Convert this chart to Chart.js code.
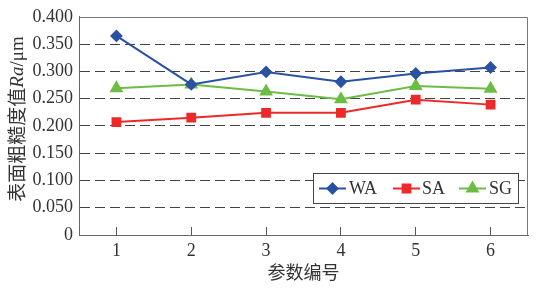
<!DOCTYPE html>
<html>
<head>
<meta charset="utf-8">
<script src="https://cdn.jsdelivr.net/npm/chart.js@4"></script>
<style>
  body { margin: 0; background: #fff; }
  #wrap { width: 537px; height: 288px; }
</style>
</head>
<body>
<div id="wrap"><canvas id="grafico" width="537" height="288"></canvas></div>
<script>
// categorías (参数编号) y valores de rugosidad
const categorias = ['1', '2', '3', '4', '5', '6'];
const valoresWA = [0.365, 0.276, 0.299, 0.281, 0.296, 0.307];
const valoresSA = [0.207, 0.215, 0.224, 0.224, 0.248, 0.239];
const valoresSG = [0.269, 0.276, 0.263, 0.249, 0.273, 0.268];
const ticksY = [0, 0.05, 0.1, 0.15, 0.2, 0.25, 0.3, 0.35, 0.4];

const serif = '"Liberation Serif", "DejaVu Serif", serif';
const cjk = '"Noto Sans CJK SC", sans-serif';

// marco, título del eje Y y leyenda dentro del área
const extras = {
    id: 'extras',
    afterDraw(chart) {
        const ctx = chart.ctx;
        const a = chart.chartArea;
        ctx.save();
        // marco superior y derecho
        ctx.strokeStyle = '#777';
        ctx.lineWidth = 1;
        ctx.beginPath();
        ctx.moveTo(Math.round(a.left) + 0.5, Math.round(a.top) + 0.5);
        ctx.lineTo(Math.round(a.right) - 0.5, Math.round(a.top) + 0.5);
        ctx.lineTo(Math.round(a.right) - 0.5, Math.round(a.bottom) + 0.5);
        ctx.stroke();

        // título Y rotado con Ra en cursiva
        const partes = [
            {t: '表面粗糙度值', f: '19px ' + cjk},
            {t: 'Ra', f: 'italic 19px ' + serif},
            {t: '/μm', f: '19px ' + serif}
        ];
        let total = 0;
        partes.forEach(p => { ctx.font = p.f; p.w = ctx.measureText(p.t).width; total += p.w; });
        ctx.translate(17, 119);
        ctx.rotate(-Math.PI / 2);
        ctx.fillStyle = '#333';
        ctx.textBaseline = 'middle';
        ctx.textAlign = 'left';
        let x = -total / 2;
        partes.forEach(p => { ctx.font = p.f; ctx.fillText(p.t, x, p.t === '表面粗糙度值' ? 0 : 1); x += p.w; });
        ctx.restore();

        // leyenda
        ctx.save();
        const bx = 313.5, by = 173.5, bw = 205, bh = 30;
        ctx.fillStyle = '#fff';
        ctx.fillRect(bx, by, bw, bh);
        ctx.strokeStyle = '#444';
        ctx.lineWidth = 1;
        ctx.strokeRect(bx, by, bw, bh);
        const cy = by + bh / 2;
        const items = [[319, 349], [393, 422], [459, 489]];
        chart.data.datasets.forEach((ds, i) => {
            const [lx, tx] = items[i];
            ctx.strokeStyle = ds.borderColor;
            ctx.lineWidth = ds.borderWidth;
            ctx.beginPath();
            ctx.moveTo(lx, cy);
            ctx.lineTo(lx + 27, cy);
            ctx.stroke();
            ctx.fillStyle = ds.pointBackgroundColor;
            Chart.helpers.drawPoint(ctx, {
                pointStyle: ds.pointStyle, radius: ds.pointRadius, borderWidth: 1, rotation: 0
            }, lx + 13.5, cy);
            ctx.fillStyle = '#333';
            ctx.font = '18px ' + serif;
            ctx.textBaseline = 'middle';
            ctx.fillText(ds.label, tx, cy + 1);
        });
        ctx.restore();
    }
};

const ctx = document.getElementById('grafico').getContext('2d');
new Chart(ctx, {
    type: 'line',
    data: {
        labels: categorias,
        datasets: [
            {
                label: 'WA',
                data: valoresWA,
                borderColor: '#2a52a3',
                backgroundColor: '#2a52a3',
                pointBackgroundColor: '#2a52a3',
                pointBorderColor: '#2a52a3',
                pointStyle: 'rectRot',
                pointRadius: 5,
                borderWidth: 2,
                tension: 0
            },
            {
                label: 'SA',
                data: valoresSA,
                borderColor: '#ec2a2a',
                backgroundColor: '#ec2a2a',
                pointBackgroundColor: '#ec2a2a',
                pointBorderColor: '#ec2a2a',
                pointStyle: 'rect',
                pointRadius: 5.5,
                borderWidth: 2,
                tension: 0
            },
            {
                label: 'SG',
                data: valoresSG,
                borderColor: '#6cbd45',
                backgroundColor: '#6cbd45',
                pointBackgroundColor: '#6cbd45',
                pointBorderColor: '#6cbd45',
                pointStyle: 'triangle',
                pointRadius: 6,
                borderWidth: 2,
                tension: 0
            }
        ]
    },
    options: {
        responsive: false,
        animation: false,
        layout: { padding: { left: 0, top: 16, right: 9, bottom: 0 } },
        plugins: {
            legend: { display: false },
            tooltip: { enabled: false }
        },
        scales: {
            x: {
                offset: true,
                grid: {
                    offset: false,
                    drawOnChartArea: false,
                    drawTicks: true,
                    tickLength: -8,
                    tickColor: '#555'
                },
                border: { color: '#666', width: 1 },
                ticks: {
                    padding: 13,
                    color: '#333',
                    font: { family: serif, size: 18 }
                },
                title: {
                    display: true,
                    text: '参数编号',
                    color: '#333',
                    font: { family: cjk, size: 18 },
                    padding: { top: 0, bottom: 5 }
                },
                afterFit(scale) { scale.height = 53; }
            },
            y: {
                min: 0,
                max: 0.4,
                afterBuildTicks(scale) { scale.ticks = ticksY.map(v => ({ value: v })); },
                grid: {
                    drawTicks: false,
                    color: c => (c.tick.value === 0 || c.tick.value >= 0.399) ? 'rgba(0,0,0,0)' : '#444',
                    lineWidth: 1
                },
                border: { color: '#666', width: 1, dash: [10, 5] },
                ticks: {
                    padding: 6,
                    color: '#333',
                    font: { family: serif, size: 18 },
                    callback: v => v === 0 ? '0' : v.toFixed(3)
                },
                afterFit(scale) { scale.width = 79; }
            }
        }
    },
    plugins: [extras]
});
</script>
</body>
</html>
